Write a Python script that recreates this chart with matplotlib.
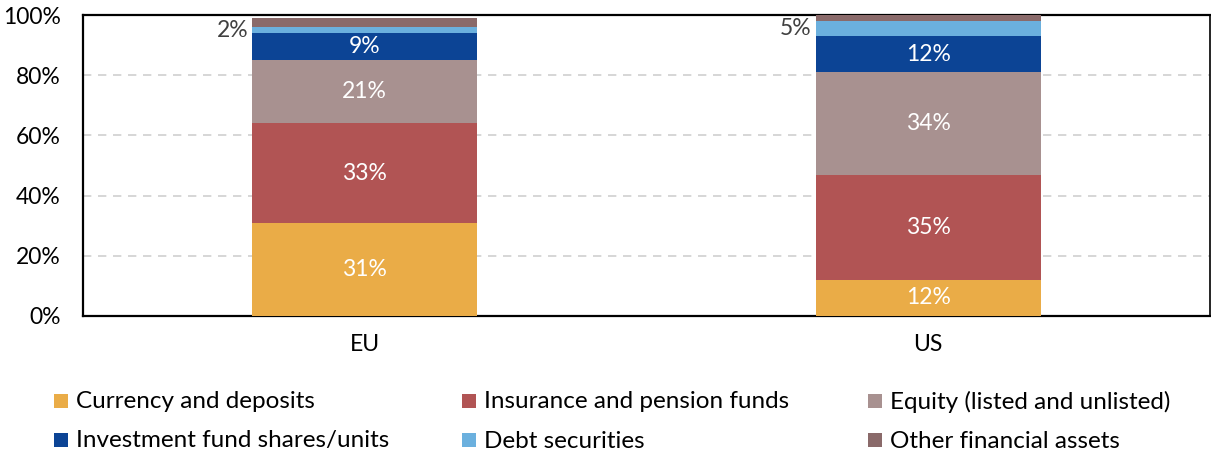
import matplotlib
matplotlib.use("Agg")
import matplotlib.pyplot as plt
from matplotlib.patches import Rectangle

plt.rcParams['font.family'] = ['Lato', 'DejaVu Sans']

regions = ["EU", "US"]
series_names = [
    "Currency and deposits",
    "Insurance and pension funds",
    "Equity (listed and unlisted)",
    "Investment fund shares/units",
    "Debt securities",
    "Other financial assets",
]
currency = [31, 12]
insurance = [33, 35]
equity = [21, 34]
investment = [9, 12]
debt = [2, 5]
other = [3, 2]
series_values = [currency, insurance, equity, investment, debt, other]
colors = ["#EAAC47", "#B15454", "#A89190", "#0C4495", "#6BB0DE", "#8A6A6A"]
y_ticks = [0, 20, 40, 60, 80, 100]

W, H = 1211, 453
FS = 16.5
FS_LEG = 17.5
fig = plt.figure(figsize=(W / 100, H / 100), dpi=100)
ax = fig.add_axes([83 / W, 1 - 316 / H, (1210 - 83) / W, (316 - 15) / H])

x = list(range(len(regions)))
bottoms = [0] * len(regions)
for name, vals, col in zip(series_names, series_values, colors):
    ax.bar(x, vals, width=0.4, bottom=bottoms, color=col, label=name, zorder=3)
    for i, v in enumerate(vals):
        mid = bottoms[i] + v / 2
        if name == "Debt securities":
            ax.text(i - 0.207, mid, f"{v}%", ha="right", va="center",
                    fontsize=FS, color="#404040", zorder=4)
        elif name != "Other financial assets":
            ax.text(i, mid, f"{v}%", ha="center", va="center",
                    fontsize=FS, color="white", zorder=4)
    bottoms = [b + v for b, v in zip(bottoms, vals)]

ax.set_xlim(-0.5, 1.5)
ax.set_ylim(0, 100)
ax.set_yticks(y_ticks)
ax.set_yticklabels([f"{t}%" for t in y_ticks])
ax.set_xticks(x)
ax.set_xticklabels(regions)
ax.tick_params(axis="both", length=0, labelsize=FS, colors="black")
ax.tick_params(axis="x", pad=13)
ax.tick_params(axis="y", pad=16)
ax.yaxis.grid(True, linestyle=(0, (5, 4)), color="#D0D0D0", linewidth=1.2, zorder=0)
for s in ["left", "bottom", "top"]:
    ax.spines[s].set_linewidth(1.6)
ax.spines["right"].set_linewidth(1.2)
for s in ax.spines.values():
    s.set_color("black")

# Legend: three columns, two rows, filled row by row
col_x = [54, 462, 868]
row_y = [401, 440]
box = 14
for k, (name, col) in enumerate(zip(series_names, colors)):
    r, c = divmod(k, 3)
    px, py = col_x[c], row_y[r]
    fig.add_artist(Rectangle((px / W, 1 - (py + box / 2) / H), box / W, box / H,
                             transform=fig.transFigure, facecolor=col,
                             edgecolor="none"))
    fig.text((px + 22) / W, 1 - (py + 1) / H, name, ha="left", va="center",
             fontsize=FS_LEG, color="black")

fig.savefig("out.png", dpi=100)
